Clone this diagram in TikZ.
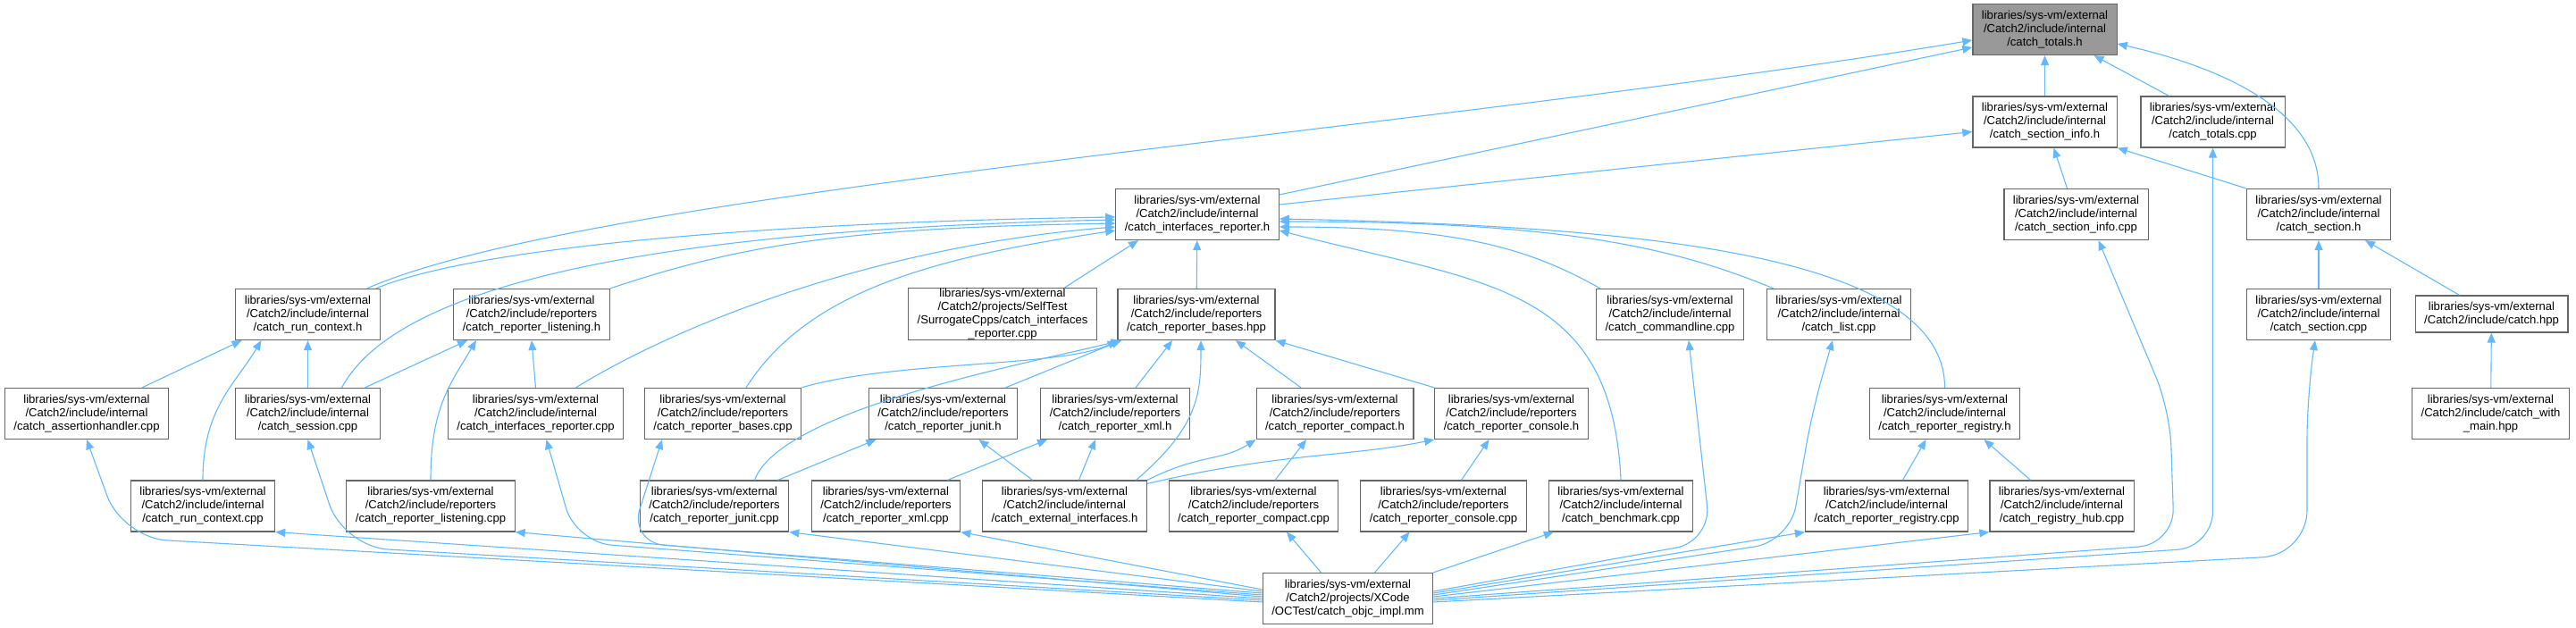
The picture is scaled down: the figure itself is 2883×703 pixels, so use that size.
\documentclass[tikz,border=0pt]{standalone}
\usepackage{fontspec}
\setmainfont{Liberation Sans}
\usetikzlibrary{arrows.meta}

\definecolor{edgeblue}{HTML}{63B8FF}
\definecolor{boxgrey}{HTML}{666666}
\definecolor{rootgrey}{HTML}{999999}

\begin{document}
\begin{tikzpicture}[x=1pt,y=-1pt,
  file/.style={draw=boxgrey,line width=1.2pt,fill=white,align=center,inner xsep=10pt,inner ysep=0pt,minimum height=57pt,font=\fontsize{13.1}{15}\selectfont},
  root/.style={file,fill=rootgrey},
  dep/.style={draw=edgeblue,line width=1.1pt,-{Triangle[length=11pt,width=9pt]}}]

\useasboundingbox (0,0) rectangle (2883,703);

\node[root] (totalsh) at (2288.5,33) {libraries/sys-vm/external\\/Catch2/include/internal\\/catch\_totals.h};

\node[file] (sectinfoh) at (2288.5,136.5) {libraries/sys-vm/external\\/Catch2/include/internal\\/catch\_section\_info.h};
\node[file] (totalscpp) at (2476.5,136.5) {libraries/sys-vm/external\\/Catch2/include/internal\\/catch\_totals.cpp};

\node[file] (ifreph) at (1340,240) {libraries/sys-vm/external\\/Catch2/include/internal\\/catch\_interfaces\_reporter.h};
\node[file] (sectinfocpp) at (2323.5,240) {libraries/sys-vm/external\\/Catch2/include/internal\\/catch\_section\_info.cpp};
\node[file] (sectionh) at (2595,240) {libraries/sys-vm/external\\/Catch2/include/internal\\/catch\_section.h};

\node[file] (runctxh) at (344.5,352) {libraries/sys-vm/external\\/Catch2/include/internal\\/catch\_run\_context.h};
\node[file] (listenh) at (595,352) {libraries/sys-vm/external\\/Catch2/include/reporters\\/catch\_reporter\_listening.h};
\node[file] (surrcpp) at (1122,351.5) {libraries/sys-vm/external\\/Catch2/projects/SelfTest\\/SurrogateCpps/catch\_interfaces\\\_reporter.cpp};
\node[file] (basehpp) at (1339,352) {libraries/sys-vm/external\\/Catch2/include/reporters\\/catch\_reporter\_bases.hpp};
\node[file] (cmdlinecpp) at (1869,352) {libraries/sys-vm/external\\/Catch2/include/internal\\/catch\_commandline.cpp};
\node[file] (listcpp) at (2058,352) {libraries/sys-vm/external\\/Catch2/include/internal\\/catch\_list.cpp};
\node[file] (sectioncpp) at (2595,352) {libraries/sys-vm/external\\/Catch2/include/internal\\/catch\_section.cpp};
\node[file,minimum height=41pt] (catchhpp) at (2788.5,351.5) {libraries/sys-vm/external\\/Catch2/include/catch.hpp};

\node[file] (asserthcpp) at (97,463) {libraries/sys-vm/external\\/Catch2/include/internal\\/catch\_assertionhandler.cpp};
\node[file] (sessioncpp) at (344.5,463) {libraries/sys-vm/external\\/Catch2/include/internal\\/catch\_session.cpp};
\node[file] (ifrepcpp) at (599.5,463) {libraries/sys-vm/external\\/Catch2/include/internal\\/catch\_interfaces\_reporter.cpp};
\node[file] (basescpp) at (809,463) {libraries/sys-vm/external\\/Catch2/include/reporters\\/catch\_reporter\_bases.cpp};
\node[file] (junith) at (1055.5,463) {libraries/sys-vm/external\\/Catch2/include/reporters\\/catch\_reporter\_junit.h};
\node[file] (xmlh) at (1248,463) {libraries/sys-vm/external\\/Catch2/include/reporters\\/catch\_reporter\_xml.h};
\node[file] (compacth) at (1494,463) {libraries/sys-vm/external\\/Catch2/include/reporters\\/catch\_reporter\_compact.h};
\node[file] (consoleh) at (1691.5,463) {libraries/sys-vm/external\\/Catch2/include/reporters\\/catch\_reporter\_console.h};
\node[file] (reggh) at (2176.5,463) {libraries/sys-vm/external\\/Catch2/include/internal\\/catch\_reporter\_registry.h};
\node[file] (withmainhpp) at (2787.5,463) {libraries/sys-vm/external\\/Catch2/include/catch\_with\\\_main.hpp};

\node[file] (runctxcpp) at (227,566.5) {libraries/sys-vm/external\\/Catch2/include/internal\\/catch\_run\_context.cpp};
\node[file] (listencpp) at (482,566.5) {libraries/sys-vm/external\\/Catch2/include/reporters\\/catch\_reporter\_listening.cpp};
\node[file] (junitcpp) at (799.5,566.5) {libraries/sys-vm/external\\/Catch2/include/reporters\\/catch\_reporter\_junit.cpp};
\node[file] (xmlcpp) at (991.5,566.5) {libraries/sys-vm/external\\/Catch2/include/reporters\\/catch\_reporter\_xml.cpp};
\node[file] (extifh) at (1191.5,566.5) {libraries/sys-vm/external\\/Catch2/include/internal\\/catch\_external\_interfaces.h};
\node[file] (compactcpp) at (1403,566.5) {libraries/sys-vm/external\\/Catch2/include/reporters\\/catch\_reporter\_compact.cpp};
\node[file] (consolecpp) at (1615.5,566.5) {libraries/sys-vm/external\\/Catch2/include/reporters\\/catch\_reporter\_console.cpp};
\node[file] (benchcpp) at (1814,566.5) {libraries/sys-vm/external\\/Catch2/include/internal\\/catch\_benchmark.cpp};
\node[file] (regcpp) at (2111.5,566.5) {libraries/sys-vm/external\\/Catch2/include/internal\\/catch\_reporter\_registry.cpp};
\node[file] (hubcpp) at (2307.5,566.5) {libraries/sys-vm/external\\/Catch2/include/internal\\/catch\_registry\_hub.cpp};

\node[file] (objcmm) at (1508.5,670) {libraries/sys-vm/external\\/Catch2/projects/XCode\\/OCTest/catch\_objc\_impl.mm};

\draw[dep] ([xshift=-15pt]runctxh.north east) .. controls +(250,-110) and +(-600,100) .. ([yshift=-12pt]totalsh.west);
\draw[dep] ([yshift=22pt]ifreph.east) -- ([yshift=-20pt]totalsh.west);
\draw[dep] (sectinfoh) -- (totalsh);
\draw[dep] ([xshift=-49pt]totalscpp.north) -- ([xshift=55pt]totalsh.south);
\draw[dep] (sectionh.north) .. controls +(0,-90) and +(110,25) .. ([yshift=-16pt]totalsh.east);

\draw[dep] ([yshift=11pt]ifreph.east) -- ([yshift=-11pt]sectinfoh.west);
\draw[dep] ([xshift=-10pt]sectinfocpp.north) -- ([xshift=10pt]sectinfoh.south);
\draw[dep] (sectionh.north west) -- (sectinfoh.south east);

\draw[dep] (sectioncpp) -- (sectionh);
\draw[dep] ([xshift=-36pt]catchhpp.north) -- ([xshift=52pt]sectionh.south);
\draw[dep] (withmainhpp) -- (catchhpp);

\draw[dep] (basehpp) -- (ifreph);
\draw[dep] ([xshift=69pt]surrcpp.north) -- ([xshift=-66pt]ifreph.south);
\draw[dep] ([xshift=-5pt]runctxh.north east) .. controls +(120,-50) and +(-350,5) .. ([yshift=-3pt]ifreph.west);
\draw[dep] ([xshift=38pt]sessioncpp.north) .. controls +(70,-130) and +(-450,10) .. ([yshift=-6pt]ifreph.west);
\draw[dep] (listenh.north east) .. controls +(150,-50) and +(-300,5) .. ([yshift=-10pt]ifreph.west);
\draw[dep] ([xshift=45pt]ifrepcpp.north) .. controls +(130,-80) and +(-250,20) .. ([yshift=-14pt]ifreph.west);
\draw[dep] ([xshift=26pt]basescpp.north) .. controls +(70,-110) and +(-200,30) .. ([yshift=-18pt]ifreph.west);
\draw[dep] (reggh.north) .. controls +(0,-150) and +(400,8) .. ([yshift=-5pt]ifreph.east);
\draw[dep] ([xshift=8pt]listcpp.north west) .. controls +(-120,-50) and +(300,0) .. ([yshift=-8pt]ifreph.east);
\draw[dep] ([xshift=5pt]cmdlinecpp.north west) .. controls +(-80,-45) and +(200,0) .. ([yshift=-14pt]ifreph.east);
\draw[dep] (benchcpp.north) .. controls +(-10,-220) and +(230,60) .. ([yshift=-18pt]ifreph.east);

\draw[dep] (basescpp.north east) .. controls +(100,-30) and +(-60,30) .. (basehpp.south west);
\draw[dep] ([xshift=45pt]junitcpp.north) .. controls +(30,-80) and +(-100,25) .. ([xshift=4pt]basehpp.south west);
\draw[dep] ([xshift=70pt]junith.north) -- ([xshift=-84pt]basehpp.south);
\draw[dep] ([xshift=23pt]xmlh.north) -- ([xshift=-27pt]basehpp.south);
\draw[dep] ([xshift=80pt]extifh.north) .. controls +(70,-60) and +(0,60) .. ([xshift=5pt]basehpp.south);
\draw[dep] ([xshift=-38pt]compacth.north) -- ([xshift=44pt]basehpp.south);
\draw[dep] (consoleh.north west) -- (basehpp.south east);

\draw[dep] ([xshift=71pt]junitcpp.north) -- ([xshift=-75pt]junith.south);
\draw[dep] ([xshift=-36pt]extifh.north) -- ([xshift=40pt]junith.south);
\draw[dep] ([xshift=69pt]xmlcpp.north) -- ([xshift=-76pt]xmlh.south);
\draw[dep] ([xshift=16pt]extifh.north) -- ([xshift=-22pt]xmlh.south);
\draw[dep] (extifh.north east) .. controls +(60,-30) and +(-40,25) .. (compacth.south west);
\draw[dep] ([xshift=24pt]compactcpp.north) -- ([xshift=-32pt]compacth.south);
\draw[dep] ([yshift=-4pt]extifh.north east) .. controls +(150,-35) and +(-100,20) .. (consoleh.south west);
\draw[dep] ([xshift=20pt]consolecpp.north) -- ([xshift=-25pt]consoleh.south);

\draw[dep] ([xshift=62pt]asserthcpp.north) -- ([xshift=-74pt]runctxh.south);
\draw[dep] (runctxcpp.north) .. controls +(0,-80) and +(-30,50) .. ([xshift=-52pt]runctxh.south);
\draw[dep] (sessioncpp) -- (runctxh);
\draw[dep] ([xshift=64pt]sessioncpp.north) -- ([xshift=-72pt]listenh.south);
\draw[dep] (listencpp.north) .. controls +(0,-80) and +(-30,50) .. ([xshift=-62pt]listenh.south);
\draw[dep] (ifrepcpp.north) -- (listenh.south);
\draw[dep] ([xshift=18pt]regcpp.north) -- ([xshift=-21pt]reggh.south);
\draw[dep] ([xshift=-35pt]hubcpp.north) -- ([xshift=44pt]reggh.south);

\draw[dep,rounded corners=50pt] ([yshift=-4pt]objcmm.west) -- ([shift={(40pt,-110pt)}]asserthcpp.south) -- (asserthcpp.south);
\draw[dep,rounded corners=50pt] ([yshift=-2pt]objcmm.west) -- ([shift={(40pt,-120pt)}]sessioncpp.south) -- (sessioncpp.south);
\draw[dep] (objcmm.west) -- (runctxcpp.south east);
\draw[dep] ([yshift=2pt]objcmm.west) -- (listencpp.south east);
\draw[dep,rounded corners=40pt] ([yshift=4pt]objcmm.west) -- ([shift={(45pt,-115pt)}]ifrepcpp.south) -- ([xshift=12pt]ifrepcpp.south);
\draw[dep,rounded corners=40pt] ([yshift=6pt]objcmm.west) -- ([shift={(-105pt,-115pt)}]basescpp.south) -- ([xshift=-68pt]basescpp.south);
\draw[dep] ([yshift=8pt]objcmm.west) -- (junitcpp.south east);
\draw[dep] ([yshift=10pt]objcmm.west) -- (xmlcpp.south east);

\draw[dep] ([xshift=-30pt]objcmm.north) -- ([xshift=37pt]compactcpp.south);
\draw[dep] ([xshift=30pt]objcmm.north) -- ([xshift=-38pt]consolecpp.south);
\draw[dep] (objcmm.north east) -- ([xshift=6pt]benchcpp.south west);

\draw[dep,rounded corners=40pt] ([yshift=8pt]objcmm.east) -- ([shift={(46pt,-225pt)}]cmdlinecpp.south) -- ([xshift=21pt]cmdlinecpp.south);
\draw[dep] ([yshift=6pt]objcmm.east) -- (regcpp.south west);
\draw[dep,rounded corners=40pt] ([yshift=4pt]objcmm.east) -- ([shift={(-55pt,-225pt)}]listcpp.south) -- ([shift={(-30pt,-80pt)}]listcpp.south) -- ([xshift=-7pt]listcpp.south);
\draw[dep] ([yshift=2pt]objcmm.east) -- (hubcpp.south west);
\draw[dep,rounded corners=40pt] (objcmm.east) -- ([shift={(110pt,-340pt)}]sectinfocpp.south) -- ([shift={(105pt,-190pt)}]sectinfocpp.south) -- ([xshift=25pt]sectinfocpp.south);
\draw[dep,rounded corners=40pt] ([yshift=-2pt]objcmm.east) -- ([yshift=-447pt]totalscpp.south) -- (totalscpp.south);
\draw[dep,rounded corners=50pt] ([yshift=-4pt]objcmm.east) -- ([shift={(-13pt,-240pt)}]sectioncpp.south) -- ([shift={(-13pt,-60pt)}]sectioncpp.south) -- ([xshift=-4pt]sectioncpp.south);

\end{tikzpicture}
\end{document}
